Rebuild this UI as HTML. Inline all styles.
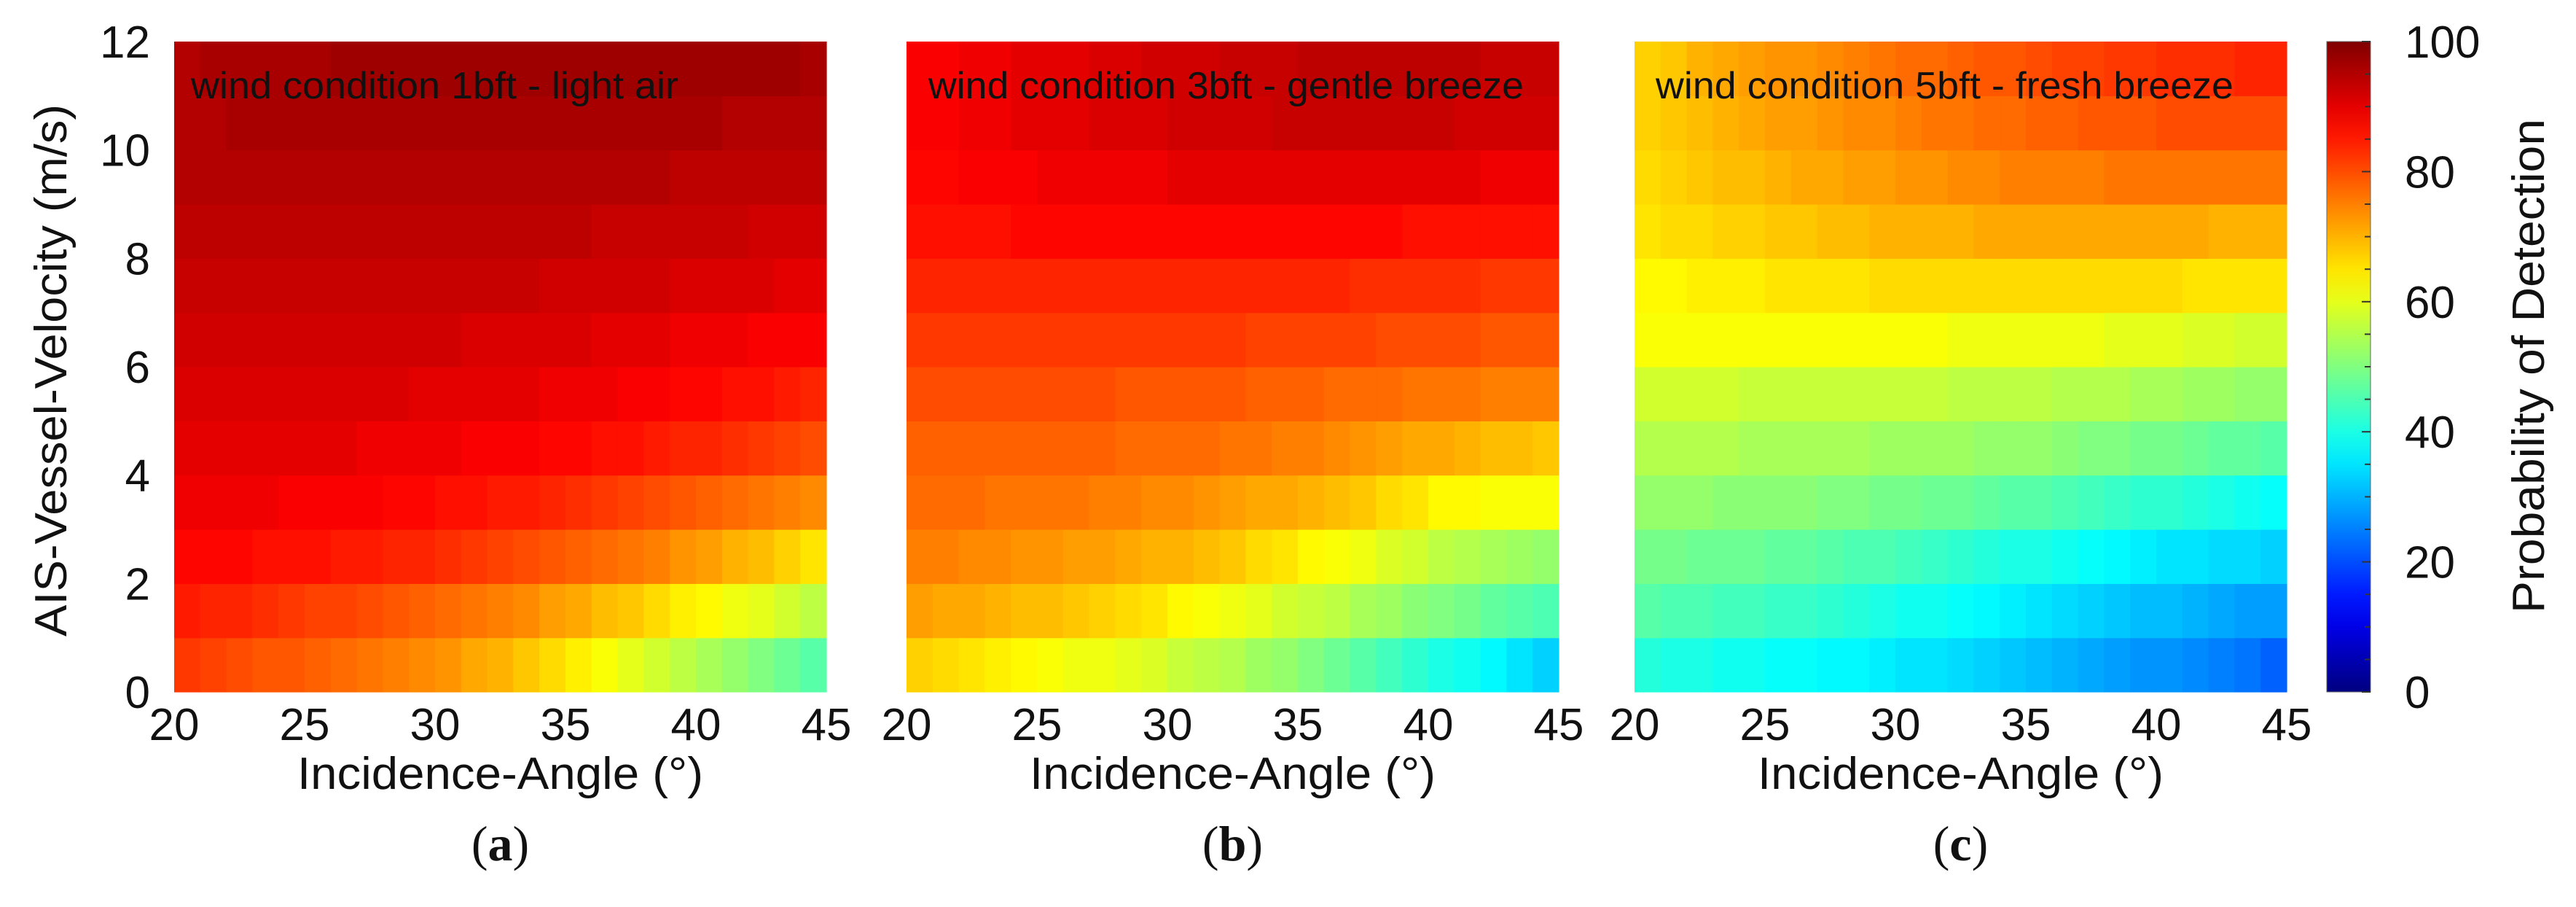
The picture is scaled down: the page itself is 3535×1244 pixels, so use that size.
<!DOCTYPE html>
<html><head><meta charset="utf-8">
<style>
html,body{margin:0;padding:0;background:#fff;}
svg{display:block;}
text{font-family:"Liberation Sans",sans-serif;fill:#111;}
</style></head>
<body>
<svg id="fig" width="3535" height="1244" viewBox="0 0 3535 1244" xmlns="http://www.w3.org/2000/svg"></svg>
<script>
// ---- data ----
const angles = [20,21,22,23,24,25,26,27,28,29,30,31,32,33,34,35,36,37,38,39,40,41,42,43,44];
const velocities = [0,1,2,3,4,5,6,7,8,9,10,11];
const xTicks = [20,25,30,35,40,45];
const yTicks = [0,2,4,6,8,10,12];
const cbTicks = [0,20,40,60,80,100];
const panelTitles = ["wind condition 1bft  - light air","wind condition 3bft  - gentle breeze","wind condition 5bft  - fresh breeze"];
const panelLetters = ["a","b","c"];
const pdLightAir = [
[82,81,80,79,79,78,77,76,75,74,73,71,70,68,66,64,62,60,58,56,54,52,50,48,46],
[85,84,84,83,82,81,81,80,79,78,77,76,75,74,72,71,69,68,66,64,63,61,60,58,56],
[87,87,87,86,86,86,85,85,84,84,83,82,81,80,79,78,77,76,75,73,72,70,69,67,65],
[89,89,89,89,88,88,88,88,87,87,86,86,85,85,84,83,82,81,80,79,78,77,76,75,74],
[90,90,90,90,90,90,90,89,89,89,89,88,88,88,87,87,86,86,85,84,84,83,82,81,80],
[91,91,91,91,91,91,91,91,91,90,90,90,90,90,89,89,89,88,88,87,87,86,86,85,84],
[92,92,92,92,92,92,92,92,92,92,92,91,91,91,91,91,90,90,90,89,89,89,88,88,88],
[93,93,93,93,93,93,93,93,93,93,93,93,93,93,92,92,92,92,92,91,91,91,91,90,90],
[94,94,94,94,94,94,94,94,94,94,94,94,94,94,94,94,93,93,93,93,93,93,92,92,92],
[95,95,95,95,95,95,95,95,95,95,95,95,95,95,95,95,95,95,95,94,94,94,94,94,94],
[95,95,96,96,96,96,96,96,96,96,96,96,96,96,96,96,96,96,96,96,96,95,95,95,95],
[95,96,96,96,96,96,97,97,97,97,97,97,97,97,97,97,97,97,97,97,97,97,97,97,96]];
const pdGentleBreeze = [
[67,66,65,64,63,62,61,61,60,59,57,56,55,53,52,50,48,46,44,42,40,39,37,35,33],
[72,71,71,70,69,69,68,67,66,65,63,62,61,60,58,57,56,54,53,51,50,49,47,46,45],
[75,75,74,74,73,73,72,72,71,70,70,69,68,66,65,63,62,61,59,58,56,55,54,53,52],
[77,77,77,76,76,76,76,75,75,74,74,73,72,71,71,70,69,68,66,65,63,63,62,62,62],
[78,78,78,78,78,78,78,78,77,77,77,77,76,76,75,75,74,73,72,71,71,70,69,69,68],
[80,80,80,80,80,80,80,80,79,79,79,79,79,78,78,78,77,77,77,76,76,76,75,75,75],
[82,82,82,82,82,82,82,82,82,82,82,82,82,81,81,81,81,81,80,80,80,80,79,79,79],
[84,84,84,84,84,84,84,84,84,84,84,84,84,84,84,84,84,83,83,83,83,83,82,82,82],
[86,86,86,86,87,87,87,87,87,87,87,87,87,87,87,87,87,87,87,86,86,86,86,86,86],
[87,87,88,88,88,89,89,89,89,89,90,90,90,90,90,90,90,90,90,90,90,90,89,89,89],
[88,88,89,89,90,90,90,91,91,91,92,92,92,92,93,93,93,93,93,93,93,92,92,92,92],
[88,88,89,89,90,90,90,91,91,92,92,92,93,93,93,94,94,94,94,94,94,94,93,93,93]];
const pdFreshBreeze = [
[41,40,40,39,39,38,38,37,37,36,35,35,34,33,32,31,30,29,28,27,27,26,25,24,22],
[46,45,45,44,44,43,43,42,41,40,39,39,38,37,36,35,34,33,32,31,31,30,29,28,28],
[49,49,48,48,48,47,47,46,45,45,44,43,42,41,40,40,39,38,37,36,35,35,34,34,33],
[52,52,52,51,51,51,51,50,50,49,49,48,48,47,46,46,45,44,43,42,42,41,40,39,38],
[55,55,55,55,54,54,54,54,54,53,53,53,53,52,52,52,51,50,50,49,49,48,47,47,46],
[58,58,58,58,57,57,57,57,57,57,57,57,56,56,56,56,55,55,55,54,54,53,53,52,52],
[62,62,62,62,62,62,62,62,62,62,62,62,61,61,61,61,61,61,60,60,60,59,59,58,58],
[63,63,64,64,64,65,65,65,65,66,66,66,66,66,66,66,66,66,66,66,66,65,65,65,65],
[65,66,66,67,67,68,68,69,69,70,70,70,70,71,71,71,71,71,71,71,71,71,70,70,70],
[66,67,68,69,69,70,71,71,72,72,73,73,74,74,75,75,75,75,76,76,76,76,76,76,76],
[67,68,69,70,71,72,72,73,74,74,75,76,76,77,77,78,78,79,79,79,80,80,80,80,80],
[67,68,70,71,72,73,73,74,75,76,77,77,78,79,79,80,81,81,82,82,83,83,83,84,84]];
const panels = [pdLightAir, pdGentleBreeze, pdFreshBreeze];

// ---- layout ----
const NS = "http://www.w3.org/2000/svg";
const svg = document.getElementById("fig");
const panelX = [239,1244,2243], PW = 895, PT = 57, PH = 892;
const titleLen = [669,817,793];
function mk(tag, attrs, parent){const e=document.createElementNS(NS,tag);for(const k in attrs)e.setAttribute(k,attrs[k]);(parent||svg).appendChild(e);return e;}
function jet(v){const t=Math.max(0,Math.min(1,v/100));const c=x=>Math.round(255*Math.max(0,Math.min(1,1.5-Math.abs(4*t-x))));return `rgb(${c(3)},${c(2)},${c(1)})`;}
const xScale=(p,a)=>panelX[p]+(a-20)/25*PW;
const yScale=v=>PT+PH-(v/12)*PH;

panels.forEach((data,p)=>{
  const g=mk("g",{});
  
  
  data.forEach((row,r)=>{row.forEach((val,c)=>{
    const x0=xScale(p,angles[c]), x1=xScale(p,angles[c]+1);
    const y0=yScale(velocities[r]+1), y1=yScale(velocities[r]);
    const rect=mk("rect",{x:x0,y:y0,width:x1-x0+0.6,height:y1-y0+0.6,fill:jet(val)},g);
    
    
  });});
  const tt=mk("text",{x:panelX[p]+(p===0?23:p===1?30:29),y:135,"font-size":52,textLength:titleLen[p],lengthAdjust:"spacingAndGlyphs"});
  tt.textContent=panelTitles[p];
  
  
  xTicks.forEach(t=>{
    const tx=mk("text",{x:xScale(p,t),y:1015,"font-size":62,"text-anchor":"middle"});
    tx.textContent=t;
    
    
  });
  const xl=mk("text",{x:panelX[p]+PW/2+(p===0?-0:0),y:1082,"font-size":62,"text-anchor":"middle",textLength:557,lengthAdjust:"spacingAndGlyphs"});
  xl.textContent="Incidence-Angle (°)";
  
  
  const pl=mk("text",{x:panelX[p]+PW/2,y:1180,"font-size":68,"text-anchor":"middle",style:"font-family:'Liberation Serif',serif"});
  pl.innerHTML='(<tspan font-weight="bold">'+panelLetters[p]+'</tspan>)';
  
  
});

yTicks.forEach(t=>{
  const ty=mk("text",{x:206,y:yScale(t)+22,"font-size":62,"text-anchor":"end"});
  ty.textContent=t;
  
  
});
const yl=mk("text",{x:0,y:0,"font-size":62,"text-anchor":"middle",transform:"translate(91,508) rotate(-90)",textLength:730,lengthAdjust:"spacingAndGlyphs"});
yl.textContent="AIS-Vessel-Velocity (m/s)";



// ---- colorbar ----
const CBX=3193, CBW=60;
const defs=mk("defs",{});
const grad=mk("linearGradient",{id:"jetg",x1:0,y1:1,x2:0,y2:0},defs);
for(let i=0;i<=20;i++){mk("stop",{offset:(i/20),"stop-color":jet(i*5)},grad);}
const cb=mk("rect",{x:CBX,y:PT,width:CBW,height:PH,fill:"url(#jetg)",stroke:"#666","stroke-width":1});


for(let v=0;v<=100;v+=5){
  const yy=PT+PH-v/100*PH;
  const tk=mk("line",{x1:CBX+CBW-(v%20===0?12:8),x2:CBX+CBW,y1:yy,y2:yy,stroke:"#333","stroke-width":2});
  
  
}
cbTicks.forEach(t=>{
  const ct=mk("text",{x:3300,y:PT+PH-t/100*PH+22,"font-size":62});
  ct.textContent=t;
  
  
});
const cl=mk("text",{x:0,y:0,"font-size":62,"text-anchor":"middle",transform:"translate(3491,502) rotate(-90)",textLength:678,lengthAdjust:"spacingAndGlyphs"});
cl.textContent="Probability of Detection";


</script>
</body></html>
